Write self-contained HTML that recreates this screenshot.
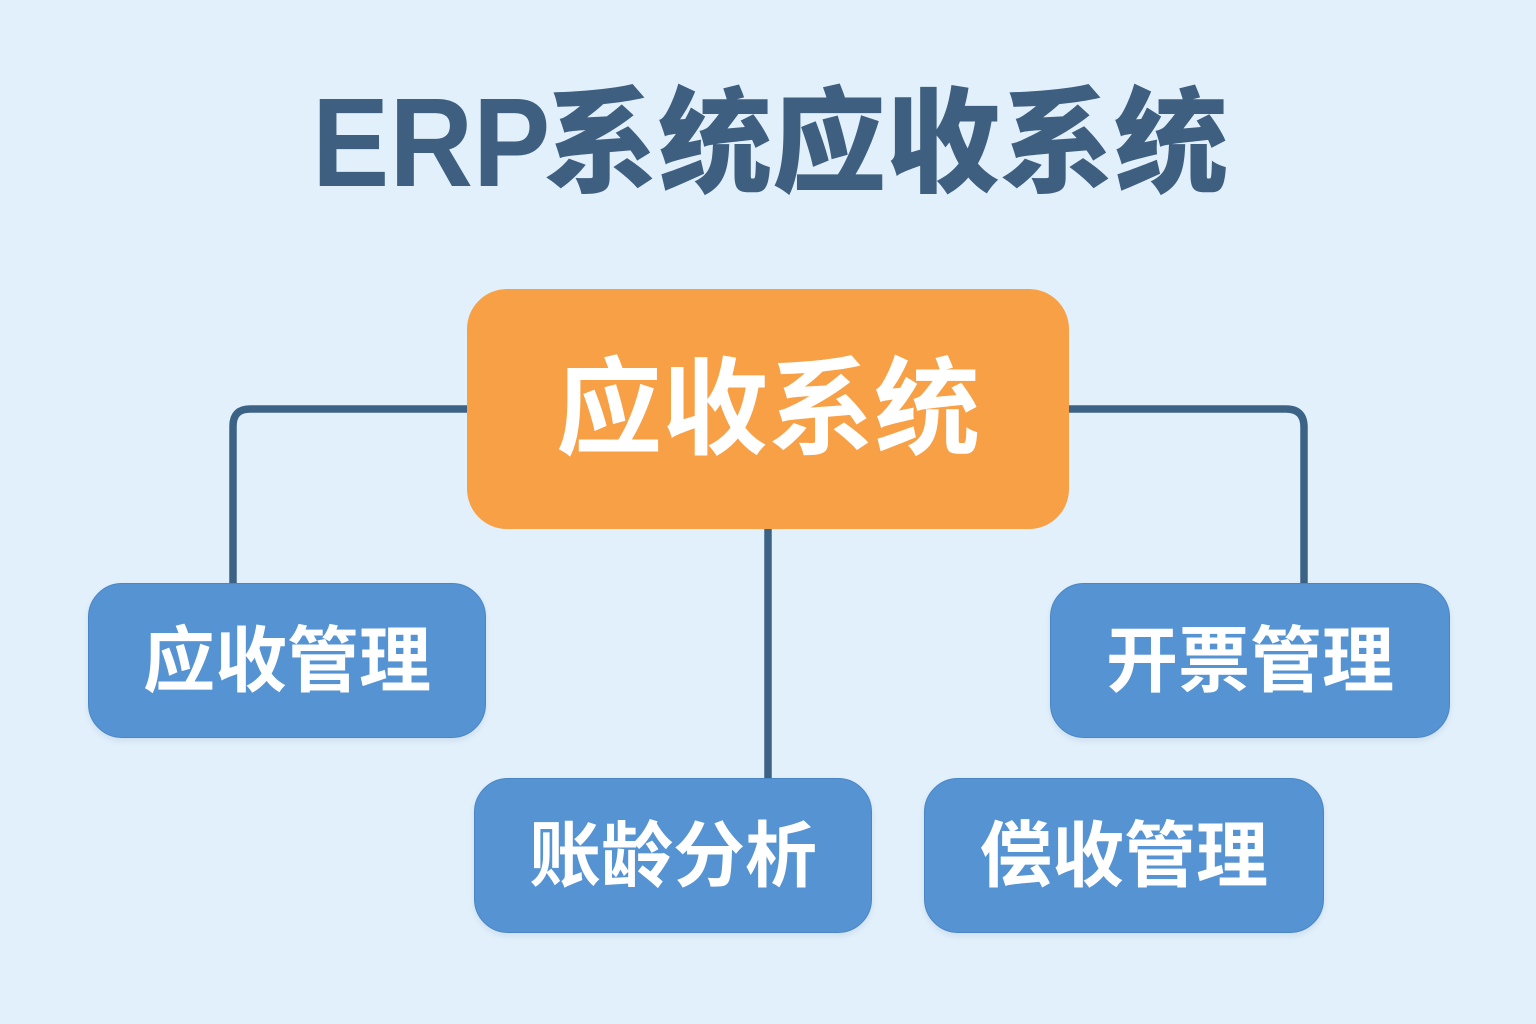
<!DOCTYPE html>
<html>
<head>
<meta charset="utf-8">
<style>
  html, body { margin:0; padding:0; }
  body { width:1536px; height:1024px; background:#E2F0FB; position:relative; overflow:hidden;
         font-family:"Liberation Sans","Noto Sans CJK SC",sans-serif; }
  .abs { position:absolute; }
  .erp { left:312px; top:80px; font-size:126px; line-height:126px; font-weight:bold; color:#3E5F7F;
         font-family:"Liberation Sans",sans-serif; transform:scaleX(0.92); transform-origin:left top; white-space:nowrap; }
  .ttl { left:544px; top:77px; font-size:114px; line-height:114px; font-weight:900; color:#3E5F7F;
         font-family:"Noto Sans CJK SC",sans-serif; white-space:nowrap; }
  .box { position:absolute; box-sizing:border-box; }
  .orange { left:467px; top:289px; width:602px; height:240px; background:#F7A046; border-radius:40px; }
  .blue { background:#5593D3; border:1.5px solid #4A86C6; border-radius:34px; width:398px; height:155px;
          box-shadow:0 3px 6px rgba(60,100,150,0.12); }
  .lbl { position:absolute; left:0; width:100%; text-align:center; color:#fff; font-weight:700;
         font-family:"Noto Sans CJK SC",sans-serif; white-space:nowrap; }
  .big { font-size:106px; line-height:106px; top:58px; }
  .small { font-size:72px; line-height:72px; top:35px; }
</style>
</head>
<body>
<svg class="abs" style="left:0;top:0" width="1536" height="1024">
  <g fill="none" stroke="#3C6286" stroke-width="7.5">
    <path d="M470 409 H250 Q233 409 233 426 V585"/>
    <path d="M1066 409 H1286 Q1304 409 1304 427 V585"/>
    <path d="M768 526 V781"/>
  </g>
</svg>

<div class="abs erp">ERP</div>
<div class="abs ttl">系统应收系统</div>

<div class="box orange"><div class="lbl big">应收系统</div></div>

<div class="box blue" style="left:88px;top:583px;"><div class="lbl small">应收管理</div></div>
<div class="box blue" style="left:1050px;top:583px;width:400px;"><div class="lbl small">开票管理</div></div>
<div class="box blue" style="left:474px;top:778px;"><div class="lbl small">账龄分析</div></div>
<div class="box blue" style="left:924px;top:778px;width:400px;"><div class="lbl small">偿收管理</div></div>
</body>
</html>
